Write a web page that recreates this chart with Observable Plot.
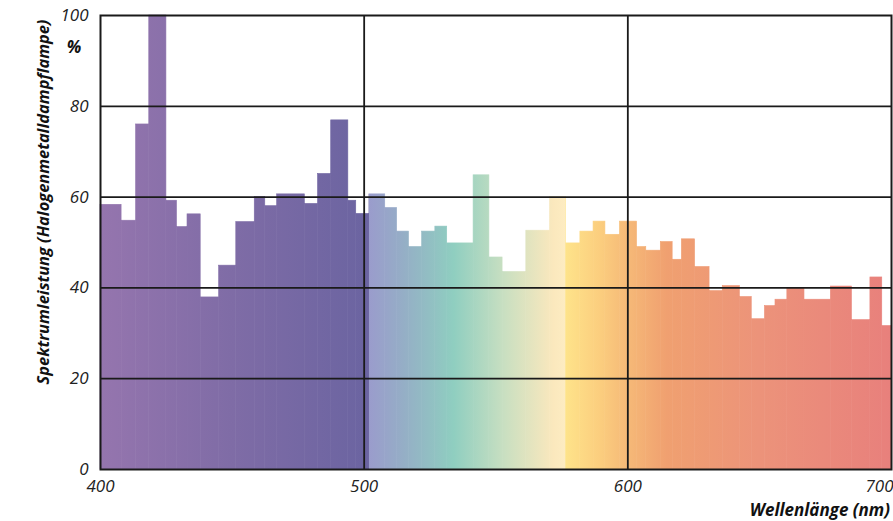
<!DOCTYPE html>
<html>
<head>
<meta charset="utf-8">
<script src="https://cdn.jsdelivr.net/npm/d3@7"></script>
<script src="https://cdn.jsdelivr.net/npm/@observablehq/plot@0.6"></script>
<style>
  html, body { margin: 0; padding: 0; background: #fff; }
  #chart svg { display: block; }
</style>
</head>
<body>
<div id="chart"></div>
<script>
// Bin edges (nm) and spectral power (%) per bin
const binEdges = [400, 408, 413.5, 418.5, 425, 429, 433, 438, 445, 451.5, 458.5, 462.5, 467, 477.5, 482.5, 487.5, 494, 497, 502, 508, 512.5, 517, 522, 527, 531.5, 541.5, 547.5, 552.5, 561.5, 570.5, 576.5, 582, 587, 591.5, 597, 603.5, 607, 612.5, 617, 620.5, 625.5, 631, 636, 642.5, 647, 652, 656, 660.5, 667, 677, 685, 692, 696.5, 700];
const power = [58.3, 54.8, 76, 100, 59.2, 53.4, 56.2, 37.9, 44.9, 54.5, 60, 58, 60.6, 58.5, 65.1, 76.9, 59.2, 56.3, 60.6, 57.6, 52.4, 49, 52.4, 53.5, 49.8, 64.8, 46.7, 43.5, 52.6, 60, 49.8, 52.4, 54.6, 51.7, 54.6, 49, 48.2, 50.1, 46.2, 50.7, 44.6, 39.3, 40.4, 38, 33.1, 36, 37.4, 40, 37.4, 40.3, 32.9, 42.3, 31.6];

// Spectrum colour stops (nm -> colour)
const stopNm = [400, 450, 501.9, 502.1, 515, 534, 553, 572, 576.4, 576.6, 590, 599, 615, 650, 700];
const stopColor = ["#9575ae", "#7f6ca6", "#6b64a1", "#9a9ccc", "#95aec6", "#8fcec0", "#c8dfc1", "#fbe8bd", "#fdecc2", "#fee38a", "#fbcd7e", "#f6bb78", "#f0a070", "#ec937a", "#e8807c"];

const yTicks = [0, 20, 40, 60, 80, 100];
const xTicksMid = [400, 500, 600];
const xTicksEnd = [700];
const yGrid = [20, 40, 60, 80];
const xGrid = [500, 600];

const bins = power.map((v, i) => ({x1: binEdges[i], x2: binEdges[i + 1], y: v}));

const FONT = "'Open Sans', 'DejaVu Sans', sans-serif";
const ink = "#1a1a1a";

const plot = Plot.plot({
  width: 893,
  height: 521,
  marginLeft: 100,
  marginRight: 2,
  marginTop: 15,
  marginBottom: 52,
  style: {fontFamily: FONT, color: "#222", background: "#fff"},
  x: {domain: [400, 700]},
  y: {domain: [0, 100]},
  marks: [
    Plot.rectY(bins, {x1: "x1", x2: "x2", y: "y", fill: "url(#spectrumGrad)", stroke: "url(#spectrumGrad)", strokeWidth: 0.6}),
    Plot.ruleY(yGrid, {stroke: ink, strokeWidth: 1.8}),
    Plot.ruleX(xGrid, {stroke: ink, strokeWidth: 1.8}),
    Plot.frame({stroke: ink, strokeWidth: 2}),
    Plot.axisY({ticks: yTicks, tickSize: 0, tickPadding: 12, label: null, fontSize: 17, fontStyle: "italic"}),
    Plot.axisX({ticks: xTicksMid, tickSize: 0, tickPadding: 10, label: null, fontSize: 17, fontStyle: "italic"}),
    Plot.axisX({ticks: xTicksEnd, tickSize: 0, tickPadding: 10, label: null, fontSize: 17, fontStyle: "italic", textAnchor: "end", dx: 2})
  ]
});

const xs = plot.scale("x");
const svg = d3.select(plot);
const defs = svg.insert("defs", ":first-child");
const grad = defs.append("linearGradient")
  .attr("id", "spectrumGrad")
  .attr("gradientUnits", "userSpaceOnUse")
  .attr("x1", xs.apply(400)).attr("x2", xs.apply(700))
  .attr("y1", 0).attr("y2", 0);
stopNm.forEach((nm, i) => {
  grad.append("stop")
    .attr("offset", (nm - 400) / 300)
    .attr("stop-color", stopColor[i]);
});

// Axis titles
svg.append("text")
  .attr("transform", "translate(49,202) rotate(-90)")
  .attr("text-anchor", "middle")
  .attr("font-family", FONT)
  .attr("font-size", 16.4)
  .attr("font-style", "italic")
  .attr("font-weight", "bold")
  .attr("fill", "#111")
  .text("Spektrumleistung (Halogenmetalldampflampe)");

svg.append("text")
  .attr("x", 74).attr("y", 53)
  .attr("text-anchor", "middle")
  .attr("font-family", FONT)
  .attr("font-size", 17)
  .attr("font-style", "italic")
  .attr("font-weight", "bold")
  .attr("fill", "#111")
  .text("%");

svg.append("text")
  .attr("x", 890).attr("y", 516)
  .attr("text-anchor", "end")
  .attr("font-family", FONT)
  .attr("font-size", 17)
  .attr("font-style", "italic")
  .attr("font-weight", "bold")
  .attr("fill", "#111")
  .text("Wellenlänge (nm)");

document.getElementById("chart").appendChild(plot);
</script>
</body>
</html>
